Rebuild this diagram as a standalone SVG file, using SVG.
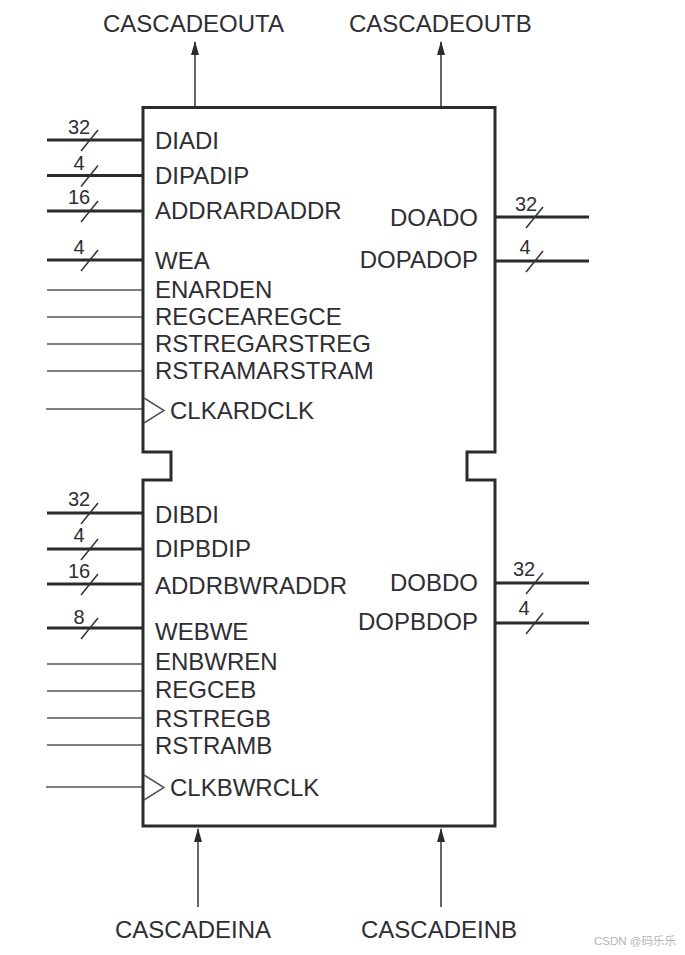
<svg xmlns="http://www.w3.org/2000/svg" width="685" height="955" viewBox="0 0 685 955">
<style>
text{font-family:"Liberation Sans",Arial,sans-serif;fill:#2e2e33}
.l{font-size:24px}
.n{font-size:20px;text-anchor:middle}
.b{fill:none;stroke:#2b2b2b;stroke-width:3}
.bus{stroke:#2b2b2b;stroke-width:3;fill:none}
.sl{stroke:#333;stroke-width:1.5;fill:none}
.th{stroke:#555;stroke-width:1.5;fill:none}
.ar{stroke:#333;stroke-width:1.5;fill:none}
</style>
<defs>
<marker id="a" markerWidth="14" markerHeight="8" refX="13" refY="4" orient="auto" markerUnits="userSpaceOnUse" viewBox="0 0 14 8"><path d="M0 0L14 4L0 8Z" fill="#2b2b2b"/></marker>
<path id="s" d="M-17 11L0 -10"/>
</defs>
<rect width="685" height="955" fill="#fff"/>
<g id="connectors">
<path class="ar" d="M195 106V42" marker-end="url(#a)"/>
<path class="ar" d="M441 106V42" marker-end="url(#a)"/>
<path class="ar" d="M198 907V829" marker-end="url(#a)"/>
<path class="ar" d="M441 907V829" marker-end="url(#a)"/>
<path class="bus" d="M47 140H143M47 175.500H143M47 211H143M47 260H143M47 513H143M47 549H143M47 584H143M47 628H143M495 217H589M495 261H589M495 583H589M495 623H589"/>
<g class="sl">
<use href="#s" x="98" y="140"/><use href="#s" x="98" y="175.500"/><use href="#s" x="98" y="211"/><use href="#s" x="98" y="260"/>
<use href="#s" x="98" y="513"/><use href="#s" x="98" y="549"/><use href="#s" x="98" y="584"/><use href="#s" x="98" y="628"/>
<use href="#s" x="543" y="217"/><use href="#s" x="543" y="261"/><use href="#s" x="543" y="583"/><use href="#s" x="543" y="623"/>
</g>
<path class="th" d="M47 290H143M47 317H143M47 344H143M47 371H143M46 409H143M47 664H143M47 691H143M47 718H143M47 745H143M46 787H143"/>
</g>
<g id="block">
<path class="b" d="M143 107.500H495V452H467V480H495V826H143V480H171V452H143Z"/>
<path class="th" d="M144 398L164 410.500L144 423M144 775L164 787.500L144 800"/>
</g>
<g id="top-labels">
<text class="l" x="103" y="32">CASCADEOUTA</text>
<text class="l" x="349" y="32">CASCADEOUTB</text>
<text class="l" x="115" y="938">CASCADEINA</text>
<text class="l" x="361" y="938">CASCADEINB</text>
</g>
<g id="port-a-left">
<text class="l" x="155" y="149">DIADI</text>
<text class="l" x="155" y="184">DIPADIP</text>
<text class="l" x="155" y="219">ADDRARDADDR</text>
<text class="l" x="155" y="269">WEA</text>
<text class="l" x="155" y="298">ENARDEN</text>
<text class="l" x="155" y="325">REGCEAREGCE</text>
<text class="l" x="155" y="352">RSTREGARSTREG</text>
<text class="l" x="155" y="379">RSTRAMARSTRAM</text>
<text class="l" x="170" y="419">CLKARDCLK</text>
</g>
<g id="port-a-right">
<text class="l" x="478" y="226" text-anchor="end">DOADO</text>
<text class="l" x="478" y="268" text-anchor="end">DOPADOP</text>
</g>
<g id="port-b-left">
<text class="l" x="155" y="523">DIBDI</text>
<text class="l" x="155" y="557">DIPBDIP</text>
<text class="l" x="155" y="594">ADDRBWRADDR</text>
<text class="l" x="155" y="640">WEBWE</text>
<text class="l" x="155" y="670">ENBWREN</text>
<text class="l" x="155" y="698">REGCEB</text>
<text class="l" x="155" y="727">RSTREGB</text>
<text class="l" x="155" y="754">RSTRAMB</text>
<text class="l" x="170" y="796">CLKBWRCLK</text>
</g>
<g id="port-b-right">
<text class="l" x="478" y="591" text-anchor="end">DOBDO</text>
<text class="l" x="478" y="630" text-anchor="end">DOPBDOP</text>
</g>
<g id="bus-widths">
<text class="n" x="79" y="134">32</text><text class="n" x="79" y="170">4</text><text class="n" x="79" y="204">16</text><text class="n" x="79" y="254">4</text>
<text class="n" x="79" y="506">32</text><text class="n" x="79" y="542">4</text><text class="n" x="79" y="578">16</text><text class="n" x="79" y="624">8</text>
<text class="n" x="526" y="211">32</text><text class="n" x="525" y="254">4</text><text class="n" x="524" y="576">32</text><text class="n" x="524" y="615">4</text>
</g>
<text x="594" y="945" style="font-family:'Liberation Sans','Noto Sans CJK SC',sans-serif;font-size:11.500px;fill:#b5b5b5">CSDN @码乐乐</text>
</svg>
